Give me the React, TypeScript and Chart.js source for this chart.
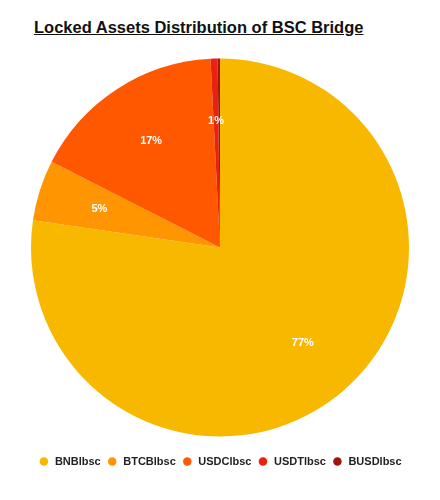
import React, { useEffect, useRef } from "react";
import { Chart, registerables } from "chart.js";

Chart.register(...registerables);

const TITLE = "Locked Assets Distribution of BSC Bridge";
const categories = ["BNBlbsc", "BTCBlbsc", "USDClbsc", "USDTlbsc", "BUSDlbsc"];
const shares = [77.3, 5.2, 16.7, 0.6, 0.2];
const colors = ["#F9B800", "#FF9500", "#FF5800", "#E8220F", "#A01508"];

const FONT = "'Liberation Sans', Arial, Helvetica, sans-serif";

const labelPlugin = {
  id: "sliceLabels",
  afterDatasetsDraw(chart: any) {
    const ctx = chart.ctx;
    const meta = chart.getDatasetMeta(0);
    const data = chart.data.datasets[0].data as number[];
    const total = data.reduce((a, b) => a + b, 0);
    ctx.save();
    ctx.fillStyle = "#ffffff";
    ctx.font = `bold 11px ${FONT}`;
    ctx.textAlign = "center";
    ctx.textBaseline = "middle";
    meta.data.forEach((arc: any, i: number) => {
      const pct = Math.round((data[i] / total) * 100);
      if (pct < 1) return;
      const p = arc.getProps(["x", "y", "startAngle", "endAngle", "outerRadius"], true);
      const mid = (p.startAngle + p.endAngle) / 2;
      const r = p.outerRadius * 0.67;
      ctx.fillText(pct + "%", p.x + Math.cos(mid) * r, p.y + Math.sin(mid) * r);
    });
    ctx.restore();
  },
};

const legendGap = {
  id: "legendGap",
  beforeInit(chart: any) {
    const legend = chart.legend;
    if (!legend) return;
    const orig = legend.fit;
    legend.fit = function () {
      orig.call(this);
      this.height += 15;
    };
  },
};

export default function App() {
  const ref = useRef<HTMLCanvasElement | null>(null);
  useEffect(() => {
    if (!ref.current) return;
    const chart = new Chart(ref.current, {
      type: "pie",
      data: {
        labels: categories,
        datasets: [
          {
            data: shares,
            backgroundColor: colors,
            borderWidth: 0,
          },
        ],
      },
      options: {
        animation: false,
        responsive: true,
        maintainAspectRatio: false,
        layout: { padding: { top: 7, left: 23, right: 23, bottom: 0 } },
        plugins: {
          tooltip: { enabled: false },
          legend: {
            position: "bottom",
            labels: {
              usePointStyle: true,
              pointStyle: "circle",
              boxWidth: 11,
              boxHeight: 6,
              padding: 6,
              color: "#222",
              font: { family: FONT, size: 11, weight: "bold" },
            },
          },
        },
      },
      plugins: [labelPlugin, legendGap],
    });
    return () => chart.destroy();
  }, []);
  return (
    <div style={{ width: 424 }}>
      <div
        style={{
          fontFamily: FONT,
          fontWeight: "bold",
          fontSize: 16.5,
          lineHeight: "21px",
          paddingTop: 9,
          paddingLeft: 26,
          textDecoration: "underline",
          color: "#111",
        }}
      >
        {TITLE}
      </div>
      <div style={{ position: "relative", height: 454 }}>
        <canvas ref={ref} />
      </div>
    </div>
  );
}
